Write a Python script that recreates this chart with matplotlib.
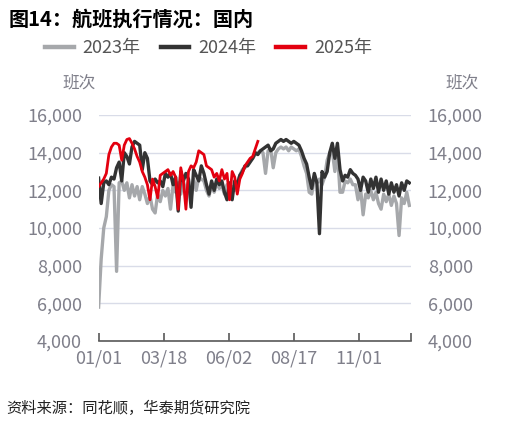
import matplotlib
matplotlib.use("Agg")
import matplotlib.pyplot as plt
import numpy as np

plt.rcParams['font.family'] = ['Noto Sans CJK SC', 'DejaVu Sans']

# day of year for each observation (every 3 days)
days = np.arange(0, 364, 3)
days_2025 = np.arange(0, 187, 3)

flights_2023 = [5800, 8350, 10000, 10600, 12000, 12300, 12200, 7700, 12400, 12500,
                12000, 12400, 11600, 12300, 11700, 12200, 11500, 12200, 11800, 11300,
                11700, 11000, 10800, 11800, 11400, 12000, 11700, 12100, 11000, 12300,
                11900, 12400, 11800, 12500, 11900, 12500, 11600, 12600, 12000, 12700,
                12600, 12500, 12000, 11700, 12300, 11900, 12400, 12100, 12300, 11800,
                12300, 11700, 12200, 12000, 12400, 12800, 13100, 13200, 13400, 13600,
                13700, 13900, 14000, 14100, 14000, 12900, 14100, 14200, 13200, 14000,
                14200, 14300, 14200, 14300, 14100, 14300, 14200, 14100, 14200, 13800,
                13300, 12900, 11900, 11800, 12600, 12400, 12600, 12300, 12700, 13600,
                14000, 14100, 13000, 14100, 11900, 11900, 12500, 12400, 12600, 12300,
                12300, 11500, 12100, 10700, 11800, 11600, 12000, 11500, 11900, 11300,
                11000, 11800, 11400, 11800, 11200, 11700, 11300, 9600, 11600, 11300,
                11900, 11200]

flights_2024 = [12650, 11300, 12400, 12500, 12300, 12700, 12600, 13200, 13500, 12500,
                14000, 13800, 13400, 14300, 14600, 14500, 14400, 13100, 14000, 13700,
                12500, 12300, 12600, 12400, 12500, 12200, 12900, 12700, 12900, 12300,
                12700, 10900, 13000, 12500, 12900, 12600, 11100, 13100, 12800, 12500,
                13300, 12900, 12300, 11800, 12500, 12000, 12600, 12300, 12500, 11900,
                11500, 12400, 11500, 12500, 12300, 12800, 13000, 13300, 13300, 13500,
                13700, 14000, 13900, 14100, 14200, 14300, 14400, 14100, 14200, 14500,
                14600, 14700, 14600, 14700, 14600, 14500, 14600, 14500, 14400, 14100,
                13700, 13400, 12700, 12100, 12900, 12400, 9700, 13000, 12700, 13000,
                14000, 14500, 13700, 14500, 13100, 12500, 12800, 12700, 13100, 12900,
                12800, 12600, 12000, 12700, 12500, 11900, 12600, 12100, 12700, 11900,
                12600, 12000, 12500, 11800, 12400, 11900, 12300, 11700, 12400, 12000,
                12500, 12400]

flights_2025 = [12200, 12400, 12600, 12900, 13900, 14300, 14500, 14500, 14400, 13600,
                14400, 14700, 14750, 14500, 14200, 13800, 13500, 13000, 12700, 12300,
                11500, 12600, 12200, 11600, 12800, 12900, 13000, 13100, 12800, 13000,
                12700, 11000, 13200, 12500, 11000, 13000, 13300, 13200, 13500, 14100,
                14000, 13900, 13300, 13200, 13100, 12700, 12900, 12500, 13100, 12600,
                12900, 11500, 13000, 12700, 11800, 12600, 12900, 13300, 13500, 13700,
                13800, 14200, 14600]

tick_days = [0, 76, 152, 228, 304]
tick_labels = ["01/01", "03/18", "06/02", "08/17", "11/01"]
y_ticks = [4000, 6000, 8000, 10000, 12000, 14000, 16000]

txt = "#7f7f8a"

fig = plt.figure(figsize=(5.19, 4.26), dpi=100)
ax = fig.add_axes([0.190, 0.1995, 0.602, 0.5305])

ax.plot(days, flights_2023, color="#a6a8ab", lw=2.4, label="2023年", zorder=2)
ax.plot(days, flights_2024, color="#333333", lw=2.4, label="2024年", zorder=3)
ax.plot(days_2025, flights_2025, color="#e3000f", lw=2.0, label="2025年", zorder=4)

ax.set_xlim(0, 365)
ax.set_ylim(4000, 16000)
ax.set_yticks(y_ticks)
ax.set_yticklabels([f"{v:,}" for v in y_ticks])
ax.set_xticks(tick_days + [365])
ax.set_xticklabels(tick_labels + [""])
ax.grid(axis="y", color="#d9dce8", lw=1.0, zorder=0)
for s in ["left", "right", "top"]:
    ax.spines[s].set_visible(False)
ax.spines["bottom"].set_color("#595959")
ax.spines["bottom"].set_linewidth(1.2)
ax.tick_params(axis="x", direction="in", length=6, width=1.2, color="#595959",
               labelsize=13, labelcolor=txt, pad=6)
ax.tick_params(axis="y", length=0, labelsize=13, labelcolor=txt, pad=12,
               labelright=True)

fig.text(0.016, 0.955, "图14：航班执行情况：国内", fontsize=14.5, fontweight="bold",
         color="#000000", va="center")
fig.text(0.12, 0.805, "班次", fontsize=12, color=txt, va="center", ha="left")
fig.text(0.858, 0.805, "班次", fontsize=12, color=txt, va="center", ha="left")
fig.text(0.012, 0.042, "资料来源：同花顺，华泰期货研究院", fontsize=11,
         color="#222222", va="center", style="italic")

leg = ax.legend(loc="center left", bbox_to_anchor=(0.062, 0.887), bbox_transform=fig.transFigure,
                ncol=3, frameon=False, fontsize=13, handlelength=1.6, handletextpad=0.5,
                columnspacing=1.1, borderpad=0.2)
for t in leg.get_texts():
    t.set_color("#555555")
for h in leg.get_lines():
    h.set_linewidth(3.2)

fig.savefig("out.png", dpi=100)
